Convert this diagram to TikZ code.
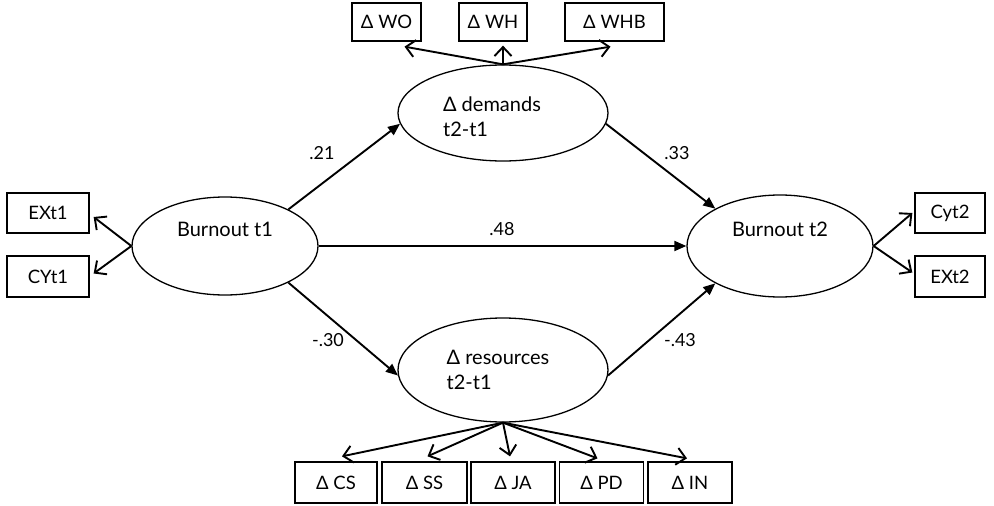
\documentclass[tikz,border=0pt]{standalone}
\usepackage{fontspec}
\setmainfont{Lato}
\usetikzlibrary{shapes.geometric,arrows.meta}
\tikzset{
  lat/.style={ellipse,draw,line width=1.3pt,inner sep=0pt,font=\fontsize{20}{25}\selectfont},
  obs/.style={rectangle,draw,line width=1.3pt,inner sep=0pt,font=\fontsize{18.5}{22}\selectfont},
  struct/.style={line width=1.9pt,-{Triangle[length=12pt,width=10pt]}},
  meas/.style={line width=1.9pt,-{Straight Barb[length=9pt,width=17pt,line width=1.9pt]}},
  coef/.style={font=\fontsize{18}{21}\selectfont,inner sep=0pt}
}
\begin{document}
\begin{tikzpicture}[x=1pt,y=-1pt]
\useasboundingbox (0,0) rectangle (994,506);
% latent variables
\node[lat,minimum width=186pt,minimum height=98pt] (b1) at (225,246) {\smash{\raisebox{10pt}{Burnout t1}}};
\node[lat,minimum width=186pt,minimum height=102pt] (b2) at (780,246) {\smash{\raisebox{10pt}{Burnout t2}}};
\node[lat,minimum width=210pt,minimum height=96pt,align=left] (dem) at (503,113) {\rule{0pt}{22pt}Δ demands\hspace*{22pt}\\t2-t1};
\node[lat,minimum width=210pt,minimum height=104pt,align=left] (res) at (503,370) {Δ resources\hspace*{10pt}\\t2-t1};
% indicators
\node[obs,minimum width=82pt,minimum height=40pt] (ex1) at (48,213) {EXt1};
\node[obs,minimum width=82pt,minimum height=41pt] (cy1) at (48,276.5) {CYt1};
\node[obs,minimum width=70pt,minimum height=40pt] (cy2) at (950,213) {Cyt2};
\node[obs,minimum width=70pt,minimum height=41pt] (ex2) at (950,276.5) {EXt2};
\node[obs,minimum width=69pt,minimum height=38pt] (wo) at (386.5,22) {Δ WO};
\node[obs,minimum width=68pt,minimum height=38pt] (wh) at (493,22) {Δ WH};
\node[obs,minimum width=99pt,minimum height=38pt] (whb) at (614.5,22) {Δ WHB};
\node[obs,minimum width=82pt,minimum height=41pt] (cs) at (336,482.5) {Δ CS};
\node[obs,minimum width=85pt,minimum height=41pt] (ss) at (424.5,482.5) {Δ SS};
\node[obs,minimum width=84pt,minimum height=41pt] (ja) at (513,482.5) {Δ JA};
\node[obs,minimum width=84pt,minimum height=41pt] (pd) at (601.5,482.5) {Δ PD};
\node[obs,minimum width=84pt,minimum height=41pt] (in) at (690,482.5) {Δ IN};
% structural paths
\draw[struct] (b1.30) -- (dem.186);
\draw[struct] (dem.354) -- (b2.150);
\draw[struct] (b1.east) -- (b2.west);
\draw[struct] (b1.-30) -- (res.183);
\draw[struct] (res.-3) -- (b2.-150);
% coefficients
\node[coef] (c21) at (322,153) {.21};
\node[coef] (c33) at (677,153) {.33};
\node[coef] (c48) at (502,229) {.48};
\node[coef] (c30) at (328,340) {-.30};
\node[coef] (c43) at (680,340) {-.43};
% measurement arrows
\draw[meas] (dem.north) -- ([xshift=18pt,yshift=-5pt]wo.south);
\draw[meas] (dem.north) -- ([xshift=10pt,yshift=-4pt]wh.south);
\draw[meas] (dem.north) -- ([xshift=-4pt,yshift=-5pt]whb.south);
\draw[meas] (res.south) -- ([xshift=6pt,yshift=5pt]cs.north);
\draw[meas] (res.south) -- ([xshift=3pt,yshift=5pt]ss.north);
\draw[meas] (res.south) -- ([xshift=-3pt,yshift=5pt]ja.north);
\draw[meas] (res.south) -- ([xshift=-4pt,yshift=3pt]pd.north);
\draw[meas] (res.south) -- ([xshift=-3pt,yshift=3pt]in.north);
\draw[meas] (b1.west) -- ([xshift=4pt,yshift=-4pt]ex1.east);
\draw[meas] (b1.west) -- ([xshift=4pt,yshift=3pt]cy1.east);
\draw[meas] (b2.east) -- ([xshift=-2pt]cy2.west);
\draw[meas] (b2.east) -- ([xshift=-2pt,yshift=4pt]ex2.west);
\end{tikzpicture}
\end{document}
